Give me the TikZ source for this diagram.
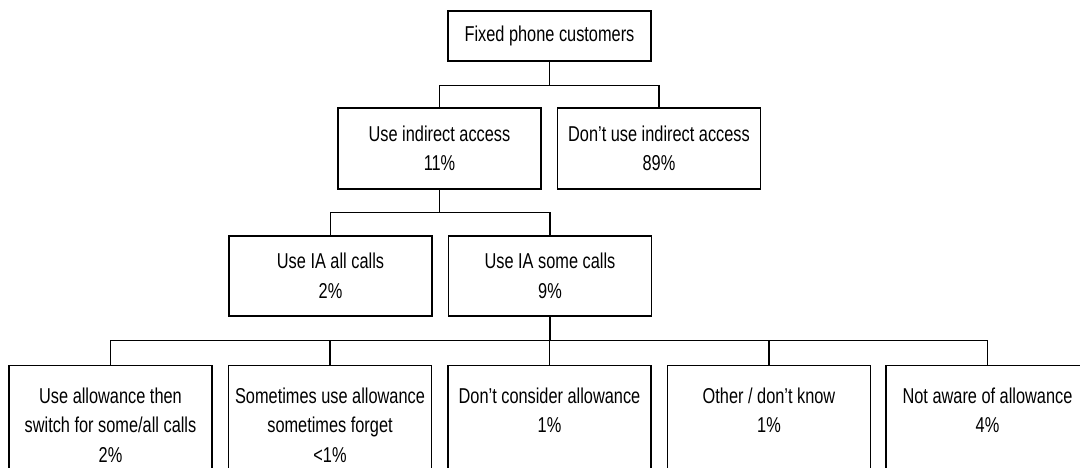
\documentclass[tikz,border=0pt]{standalone}
\usepackage{fontspec}
\setmainfont{Liberation Sans}[FakeStretch=0.76]
\begin{document}
\begin{tikzpicture}[x=1pt,y=-1pt,
  box/.style={draw, line width=1.3pt, minimum width=203pt, inner sep=0pt, align=center,
    font=\fontsize{21.5}{29.5}\selectfont},
  lbl/.style={inner sep=0pt, align=center, anchor=north, font=\fontsize{21.5}{29.5}\selectfont},
  link/.style={line width=1.3pt}]
\useasboundingbox (0,0) rectangle (1080,468);
\clip (0,0) rectangle (1080,468);
% level 1
\node[box, minimum height=50pt] (top) at (549.5,36) {Fixed phone customers};
% level 2
\node[box, minimum height=81pt] (ua) at (439.5,148.5) {Use indirect access\\11\%};
\node[box, minimum height=81pt] (nua) at (659,148.5) {Don’t use indirect access\\89\%};
% level 3
\node[box, minimum height=80pt] (all) at (330.5,276) {Use IA all calls\\2\%};
\node[box, minimum height=80pt] (some) at (550,276) {Use IA some calls\\9\%};
% level 4
\node[box, minimum height=130pt, anchor=north] (b1) at (110.5,365) {};
\node[box, minimum height=130pt, anchor=north] (b2) at (330,365) {};
\node[box, minimum height=130pt, anchor=north] (b3) at (549.5,365) {};
\node[box, minimum height=130pt, anchor=north] (b4) at (769,365) {};
\node[box, minimum height=130pt, anchor=north] (b5) at (987.5,365) {};
\node[lbl] (t1) at ([yshift=-22.5pt]b1.north) {Use allowance then\\switch for some/all calls\\2\%};
\node[lbl] (t2) at ([yshift=-22.5pt]b2.north) {Sometimes use allowance\\sometimes forget\\<1\%};
\node[lbl] (t3) at ([yshift=-22.5pt]b3.north) {Don’t consider allowance\\1\%};
\node[lbl] (t4) at ([yshift=-22.5pt]b4.north) {Other / don’t know\\1\%};
\node[lbl] (t5) at ([yshift=-22.5pt]b5.north) {Not aware of allowance\\4\%};
% connectors
\coordinate (j1) at ([yshift=-24pt]top.south);
\draw[link] (top.south) -- (j1);
\draw[link] (ua.north) |- (j1) -| (nua.north);
\coordinate (j2) at ([yshift=-23pt]ua.south);
\draw[link] (ua.south) -- (j2);
\draw[link] (all.north) |- (j2) -| (some.north);
\coordinate (j3) at ([yshift=-24pt]some.south);
\draw[link] (some.south) -- (j3);
\draw[link] (b1.north) |- (j3) -| (b5.north);
\draw[link] (b2.north) -- (b2.north |- j3);
\draw[link] (b3.north) -- (b3.north |- j3);
\draw[link] (b4.north) -- (b4.north |- j3);
\end{tikzpicture}
\end{document}
